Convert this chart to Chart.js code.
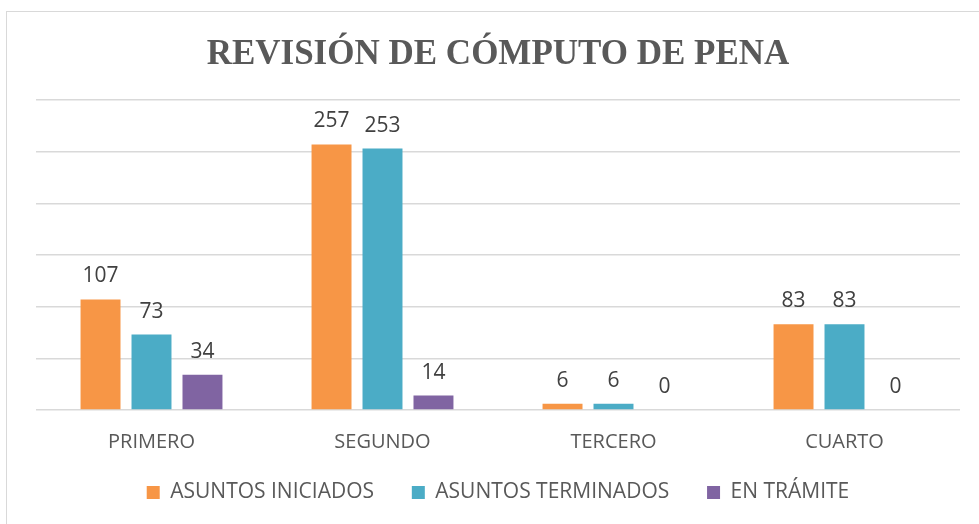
<!DOCTYPE html>
<html>
<head>
<meta charset="utf-8">
<script src="https://cdn.jsdelivr.net/npm/chart.js@4"></script>
<style>
  html,body{margin:0;padding:0;background:#fff;}
  #wrap{position:relative;width:979px;height:524px;overflow:hidden;}
  #marco{position:absolute;left:6px;top:11px;width:990px;height:540px;border:1px solid #d9d9d9;box-sizing:border-box;}
  canvas{position:absolute;left:0;top:0;}
</style>
</head>
<body>
<div id="wrap">
  <div id="marco"></div>
  <canvas id="grafico" width="979" height="524"></canvas>
</div>
<script>
// datos
const categorias=['PRIMERO','SEGUNDO','TERCERO','CUARTO'];
const iniciados=[107,257,6,83];
const terminados=[73,253,6,83];
const enTramite=[34,14,0,0];
const series=['ASUNTOS INICIADOS','ASUNTOS TERMINADOS','EN TRÁMITE'];
const colores=['#F79646','#4BACC6','#8064A2'];

// etiquetas de valor encima de cada barra
const etiquetas={
  id:'etiquetas',
  afterDatasetsDraw(chart){
    const ctx=chart.ctx;
    ctx.save();
    ctx.font='21px "Open Sans"';
    ctx.fillStyle='#404040';
    ctx.textAlign='center';
    ctx.textBaseline='alphabetic';
    chart.data.datasets.forEach((ds,i)=>{
      chart.getDatasetMeta(i).data.forEach((bar,j)=>{
        ctx.fillText(ds.data[j],bar.x,bar.y-17);
      });
    });
    ctx.restore();
  }
};

// la leyenda original deja más aire entre elementos que la de Chart.js
const espacio='\u00a0\u00a0\u00a0\u00a0';
function etiquetasLeyenda(chart){
  const items=Chart.defaults.plugins.legend.labels.generateLabels(chart);
  items.forEach((it,i)=>{ if(i<items.length-1) it.text+=espacio; });
  return items;
}

new Chart(document.getElementById('grafico'),{
  type:'bar',
  data:{
    labels:categorias,
    datasets:[
      {label:series[0],data:iniciados,backgroundColor:colores[0]},
      {label:series[1],data:terminados,backgroundColor:colores[1]},
      {label:series[2],data:enTramite,backgroundColor:colores[2]},
    ]
  },
  options:{
    responsive:false,
    animation:false,
    categoryPercentage:0.662,
    barPercentage:0.784,
    layout:{padding:{left:36,right:19,top:0,bottom:11}},
    plugins:{
      title:{display:true,text:'REVISIÓN DE CÓMPUTO DE PENA',color:'#595959',
        font:{family:'"Liberation Serif", "Times New Roman", serif',size:35,weight:'bold'},
        padding:{top:34,bottom:24}},
      legend:{position:'bottom',
        labels:{boxWidth:13,boxHeight:13,color:'#595959',padding:16,
          generateLabels:etiquetasLeyenda,
          font:{family:'"Open Sans"',size:21}}},
      tooltip:{enabled:false}
    },
    scales:{
      x:{grid:{display:false},border:{display:false},
        ticks:{color:'#595959',padding:12,font:{family:'"Open Sans"',size:20}}},
      y:{min:0,max:300,ticks:{display:false,stepSize:50},
        grid:{color:'#d9d9d9',lineWidth:1.5,drawTicks:false},border:{display:false}}
    }
  },
  plugins:[etiquetas]
});
</script>
</body>
</html>
